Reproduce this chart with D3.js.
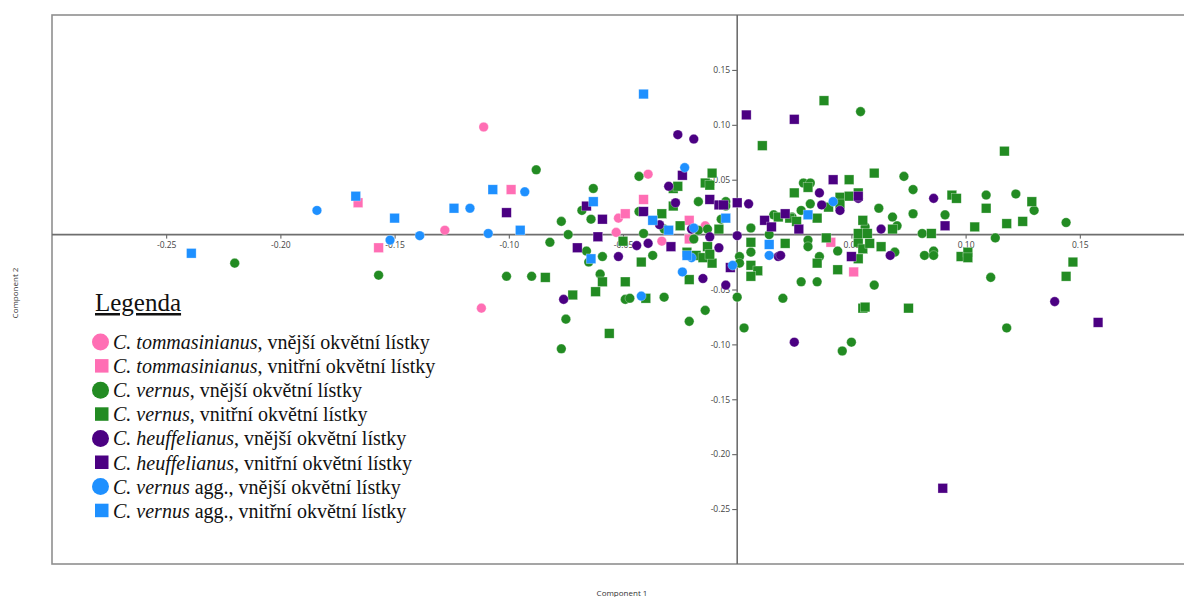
<!DOCTYPE html>
<html>
<head>
<meta charset="utf-8">
<script src="https://cdn.jsdelivr.net/npm/d3@7"></script>
<style>
  body { margin: 0; background: #fff; }
  svg { display: block; }
</style>
</head>
<body>
<svg id="chart" width="1184" height="597"></svg>
<script>
// PCA scores [Component 1, Component 2] for each group of perianth segments
const tommOuter = [
  [-0.111, 0.098], [-0.128, 0.004], [-0.112, -0.067], [-0.039, 0.055],
  [-0.052, 0.015], [-0.053, 0.002], [-0.014, 0.008], [-0.033, -0.006]
];
const tommInner = [
  [-0.166, 0.029], [-0.157, -0.012], [-0.099, 0.041], [-0.041, 0.032],
  [-0.049, 0.019], [-0.021, 0.013], [-0.021, -0.004], [0.041, -0.007],
  [0.051, -0.034]
];
const vernOuter = [
  [-0.220, -0.026], [-0.157, -0.037], [-0.088, 0.059], [-0.077, 0.012],
  [-0.082, -0.007], [-0.101, -0.038], [-0.090, -0.038], [-0.074, 0.000],
  [-0.068, 0.022], [-0.064, 0.014], [-0.063, 0.042], [-0.066, -0.015],
  [-0.065, -0.025], [-0.059, -0.020], [-0.060, -0.036], [-0.075, -0.077],
  [-0.077, -0.104], [-0.049, -0.059], [-0.047, -0.058], [-0.043, 0.053],
  [-0.043, 0.021], [-0.041, 0.001], [-0.037, -0.019], [-0.032, -0.057],
  [-0.032, 0.005], [-0.021, -0.079], [-0.017, 0.030], [-0.017, 0.004],
  [-0.014, -0.069], [-0.013, 0.005], [-0.012, 0.046], [-0.007, 0.014],
  [-0.005, 0.030], [-0.005, 0.026], [-0.019, -0.004], [0.000, -0.057],
  [0.001, -0.020], [0.001, -0.026], [0.003, -0.085], [0.006, 0.006],
  [0.006, -0.016], [0.014, 0.000], [0.016, 0.018], [0.020, -0.058],
  [0.024, 0.016], [0.028, 0.022], [0.028, -0.043], [0.029, 0.047],
  [0.032, 0.047], [0.031, -0.005], [0.031, -0.011], [0.032, 0.028],
  [0.035, -0.043], [0.036, -0.020], [0.044, -0.015], [0.046, -0.106],
  [0.050, -0.098], [0.054, 0.112], [0.060, -0.046], [0.062, 0.024],
  [0.056, 0.007], [0.068, 0.016], [0.070, 0.008], [0.069, -0.016],
  [0.073, 0.053], [0.077, 0.041], [0.077, 0.019], [0.081, 0.001],
  [0.082, -0.019], [0.086, -0.015], [0.086, -0.019], [0.091, 0.018],
  [0.109, 0.036], [0.111, -0.039], [0.113, -0.003], [0.118, -0.085],
  [0.122, 0.037], [0.130, 0.022], [0.144, 0.011]
];
const vernInner = [
  [-0.084, -0.039], [-0.072, -0.055], [-0.062, -0.052], [-0.059, -0.043],
  [-0.049, -0.043], [-0.056, -0.090], [-0.050, -0.006], [-0.042, -0.025],
  [-0.040, -0.058], [-0.033, 0.019], [-0.028, 0.026], [-0.028, 0.042],
  [-0.026, 0.044], [-0.025, 0.008], [-0.022, -0.016], [-0.021, -0.041],
  [-0.018, -0.019], [-0.015, -0.021], [-0.014, 0.047], [-0.012, 0.045],
  [-0.011, 0.056], [-0.013, -0.011], [-0.011, -0.026], [-0.008, 0.005],
  [-0.012, -0.018], [0.006, -0.007], [0.006, -0.028], [0.009, -0.033],
  [0.006, -0.038], [0.011, 0.081], [0.018, 0.016], [0.021, -0.008],
  [0.023, 0.015], [0.025, 0.038], [0.026, 0.012], [0.031, 0.043],
  [0.035, 0.015], [0.035, -0.026], [0.038, 0.122], [0.039, -0.003],
  [0.040, 0.025], [0.044, -0.032], [0.045, 0.034], [0.045, 0.028],
  [0.049, 0.050], [0.049, 0.035], [0.053, 0.038], [0.053, -0.022],
  [0.053, -0.007], [0.055, -0.013], [0.055, 0.013], [0.053, 0.001],
  [0.057, 0.001], [0.058, -0.008], [0.063, -0.011], [0.060, 0.056],
  [0.055, -0.067], [0.056, -0.066], [0.068, 0.005], [0.085, 0.001],
  [0.094, 0.036], [0.096, 0.033], [0.098, -0.020], [0.101, -0.016],
  [0.101, -0.021], [0.104, 0.007], [0.109, 0.024], [0.117, 0.076],
  [0.118, 0.010], [0.125, 0.012], [0.129, 0.030], [0.147, -0.025],
  [0.144, -0.038], [0.075, -0.067]
];
const heufOuter = [
  [-0.026, 0.091], [-0.019, 0.087], [-0.030, 0.044], [-0.027, 0.029],
  [-0.034, 0.009], [-0.020, 0.005], [-0.012, -0.002], [0.000, -0.001],
  [0.005, 0.028], [-0.044, -0.010], [-0.039, -0.008], [-0.052, -0.020],
  [-0.008, -0.012], [-0.015, -0.040], [-0.005, -0.046], [-0.076, -0.059],
  [0.018, -0.020], [0.019, -0.019], [0.036, 0.038], [0.037, 0.027],
  [0.045, 0.022], [0.053, 0.033], [0.086, 0.033], [0.063, 0.005],
  [0.067, -0.019], [0.025, -0.098], [0.139, -0.061]
];
const heufInner = [
  [-0.101, 0.020], [-0.066, 0.026], [-0.059, 0.014], [-0.061, -0.002],
  [-0.070, -0.012], [-0.041, 0.021], [-0.024, 0.054], [-0.029, -0.011],
  [-0.012, 0.032], [-0.008, 0.027], [-0.006, 0.027], [0.000, 0.029],
  [0.004, 0.109], [0.025, 0.105], [0.012, 0.013], [0.015, 0.007],
  [0.021, 0.019], [0.027, 0.005], [0.042, 0.050], [0.053, 0.035],
  [0.050, -0.020], [-0.003, -0.030], [0.091, 0.008], [0.090, -0.231],
  [0.158, -0.080]
];
const aggOuter = [
  [-0.184, 0.022], [-0.152, -0.005], [-0.139, -0.001], [-0.117, 0.024],
  [-0.109, 0.001], [-0.093, 0.039], [-0.023, 0.061], [-0.019, 0.006],
  [-0.024, -0.034], [-0.042, -0.056], [-0.020, -0.021], [0.014, -0.019],
  [-0.002, -0.028], [0.042, 0.030]
];
const aggInner = [
  [-0.239, -0.017], [-0.167, 0.035], [-0.150, 0.015], [-0.124, 0.024],
  [-0.107, 0.041], [-0.095, 0.004], [-0.041, 0.128], [-0.063, 0.030],
  [-0.037, 0.013], [-0.030, 0.004], [-0.005, 0.015], [-0.064, -0.022],
  [-0.022, -0.019], [0.014, -0.009], [0.031, 0.018]
];

const xTickValues = [-0.25, -0.20, -0.15, -0.10, -0.05, 0.05, 0.10, 0.15];
const yTickValues = [0.15, 0.10, 0.05, -0.05, -0.10, -0.15, -0.20, -0.25];
const xTitle = "Component 1";
const yTitle = "Component 2";
const legendTitle = "Legenda";

const pink = "#ff6eb4", green = "#228b22", purple = "#4b0082", blue = "#1e90ff";
const series = [
  { data: tommOuter, color: pink,   shape: "circle", taxon: "C. tommasinianus", rest: ", vnější okvětní lístky" },
  { data: tommInner, color: pink,   shape: "square", taxon: "C. tommasinianus", rest: ", vnitřní okvětní lístky" },
  { data: vernOuter, color: green,  shape: "circle", taxon: "C. vernus",        rest: ", vnější okvětní lístky" },
  { data: vernInner, color: green,  shape: "square", taxon: "C. vernus",        rest: ", vnitřní okvětní lístky" },
  { data: heufOuter, color: purple, shape: "circle", taxon: "C. heuffelianus",  rest: ", vnější okvětní lístky" },
  { data: heufInner, color: purple, shape: "square", taxon: "C. heuffelianus",  rest: ", vnitřní okvětní lístky" },
  { data: aggOuter,  color: blue,   shape: "circle", taxon: "C. vernus",        rest: " agg., vnější okvětní lístky" },
  { data: aggInner,  color: blue,   shape: "square", taxon: "C. vernus",        rest: " agg., vnitřní okvětní lístky" }
];

const svg = d3.select("#chart");
const plotL = 52, plotT = 15, plotR = 1194, plotB = 564;

const x = d3.scaleLinear().domain([-0.30, 0.20]).range([plotL, plotR]);
const y = d3.scaleLinear().domain([-0.30, 0.20]).range([plotB, plotT]);

svg.append("rect").attr("width", 1184).attr("height", 597).attr("fill", "#fff");

// plot frame
svg.append("rect")
  .attr("x", plotL).attr("y", plotT)
  .attr("width", plotR - plotL).attr("height", plotB - plotT)
  .attr("fill", "none").attr("stroke", "#8f8f8f").attr("stroke-width", 1.6);

const fmt = v => d3.format(".2f")(v).replace("\u2212", "-");

// axes crossing at the origin
const xAxis = svg.append("g")
  .attr("transform", `translate(0,${y(0)})`)
  .call(d3.axisBottom(x).tickValues(xTickValues).tickSize(4).tickPadding(3).tickFormat(fmt));
const yAxis = svg.append("g")
  .attr("transform", `translate(${x(0)},0)`)
  .call(d3.axisLeft(y).tickValues(yTickValues).tickSize(5).tickPadding(2).tickFormat(fmt));

[xAxis, yAxis].forEach(g => {
  g.select(".domain").remove();
  g.selectAll(".tick line").attr("stroke", "#555");
  g.selectAll(".tick text")
    .attr("fill", "#444")
    .style("font-family", "'Open Sans', 'DejaVu Sans', sans-serif")
    .style("font-size", "8.5px");
});

svg.append("line")
  .attr("x1", plotL).attr("x2", plotR).attr("y1", y(0)).attr("y2", y(0))
  .attr("stroke", "#6e6e6e").attr("stroke-width", 1.6);
svg.append("line")
  .attr("x1", x(0)).attr("x2", x(0)).attr("y1", plotT).attr("y2", plotB)
  .attr("stroke", "#6e6e6e").attr("stroke-width", 1.6);

// axis titles
svg.append("text")
  .attr("x", 622).attr("y", 596)
  .attr("text-anchor", "middle")
  .style("font-family", "'Open Sans', 'DejaVu Sans', sans-serif")
  .style("font-size", "8px").attr("fill", "#333")
  .text(xTitle);
svg.append("text")
  .attr("transform", "translate(18,293) rotate(-90)")
  .attr("text-anchor", "middle")
  .style("font-family", "'Open Sans', 'DejaVu Sans', sans-serif")
  .style("font-size", "8px").attr("fill", "#333")
  .text(yTitle);

// points
const markR = 4.8, markS = 9.6;
series.forEach(s => {
  const g = svg.append("g");
  if (s.shape === "circle") {
    g.selectAll("circle").data(s.data).join("circle")
      .attr("cx", d => x(d[0])).attr("cy", d => y(d[1]))
      .attr("r", markR)
      .attr("fill", s.color)
      .attr("stroke", "#fff").attr("stroke-opacity", 0.5).attr("stroke-width", 0.6);
  } else {
    g.selectAll("rect").data(s.data).join("rect")
      .attr("x", d => x(d[0]) - markS / 2).attr("y", d => y(d[1]) - markS / 2)
      .attr("width", markS).attr("height", markS)
      .attr("fill", s.color)
      .attr("stroke", "#fff").attr("stroke-opacity", 0.5).attr("stroke-width", 0.6);
  }
});

// legend
const serif = "'Liberation Serif', 'Times New Roman', serif";
svg.append("text")
  .attr("x", 95).attr("y", 311)
  .style("font-family", serif).style("font-size", "25px")
  .attr("fill", "#111")
  .attr("text-decoration", "underline")
  .text(legendTitle);

const rowY = i => 342 + i * 24.1;
series.forEach((s, i) => {
  const cy = rowY(i);
  if (s.shape === "circle") {
    svg.append("circle").attr("cx", 100.5).attr("cy", cy).attr("r", 8.5).attr("fill", s.color);
  } else {
    svg.append("rect").attr("x", 95).attr("y", cy - 7).attr("width", 13.5).attr("height", 13.5).attr("fill", s.color);
  }
  const t = svg.append("text")
    .attr("x", 113).attr("y", cy + 7)
    .style("font-family", serif).style("font-size", "20px")
    .attr("fill", "#111");
  t.append("tspan").style("font-style", "italic").text(s.taxon);
  t.append("tspan").text(s.rest);
});
</script>
</body>
</html>
